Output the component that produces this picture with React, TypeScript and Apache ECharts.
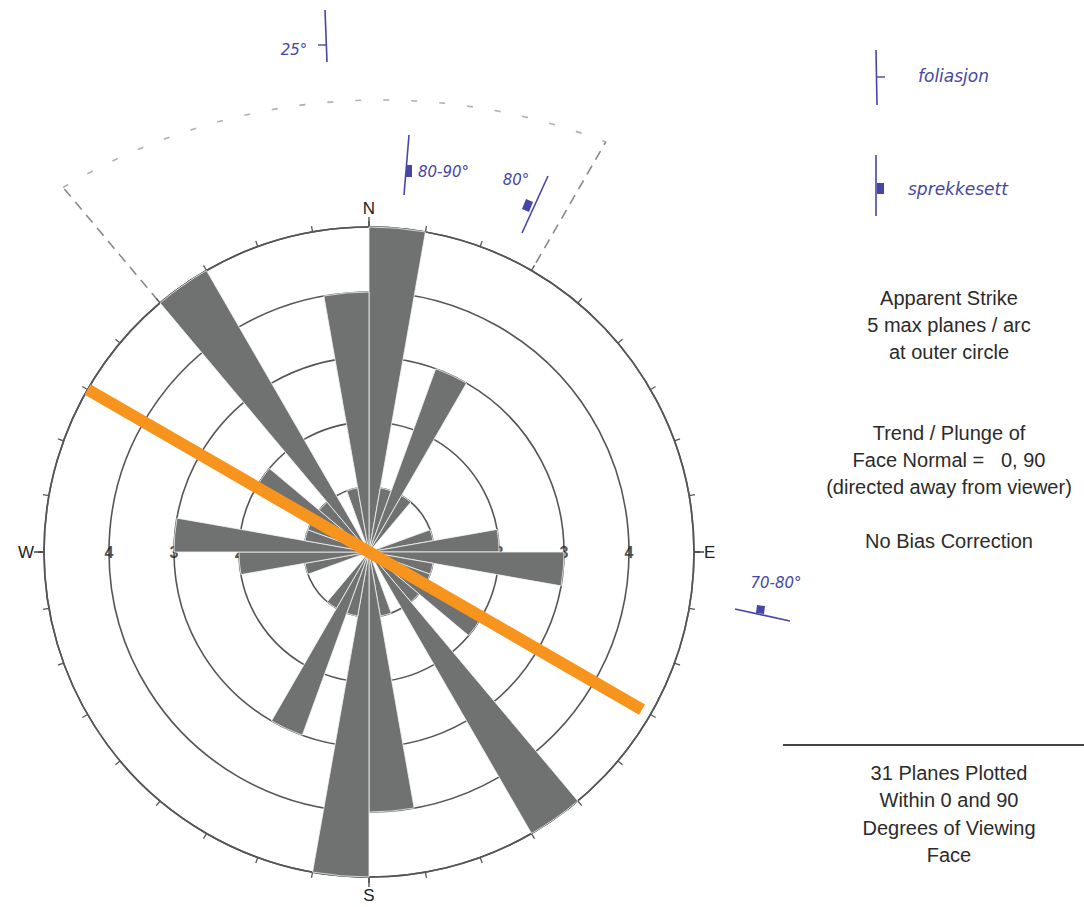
import React, { useEffect, useRef } from "react";
import * as echarts from "echarts";

// ---------- data ----------
const binStarts = [
  0, 10, 20, 30, 40, 50, 60, 70, 80, 90, 100, 110, 120, 130, 140, 150, 160, 170,
  180, 190, 200, 210, 220, 230, 240, 250, 260, 270, 280, 290, 300, 310, 320, 330, 340, 350,
];
const binLabels = binStarts.map((s) => `${s}-${s + 10}`);
// planes per 10° arc (apparent strike, bidirectional)
const planeCounts = [
  5, 1, 3, 1, 0, 0, 0, 1, 2, 3, 1, 1, 2, 1, 5, 0, 1, 4,
  5, 1, 3, 1, 0, 0, 0, 1, 2, 3, 1, 1, 2, 1, 5, 0, 1, 4,
];
const ringValues = [1, 2, 3, 4];
const ringLabelAngles = [90, 270];
const cardinalAngles = [0, 90, 180, 270];
const cardinalNames = ["N", "E", "S", "W"];
// trace of the viewing face (trend of line through centre)
const faceTrace = [
  [5.05, 300],
  [4.85, 120],
];
const infoTop = ["Apparent Strike", "5 max planes / arc", "at outer circle"];
const infoMid = ["Trend / Plunge of", "Face Normal =\u00a0\u00a0 0, 90", "(directed away from viewer)"];
const infoBias = ["No Bias Correction"];
const infoBottom = ["31 Planes Plotted", "Within 0 and 90", "Degrees of Viewing", "Face"];

// ---------- layout ----------
const W = 1084;
const H = 907;
const CX = 369;
const CY = 552;
const R = 325;
const TEXT_X = 949;
const FONT = '"Liberation Sans", Arial, sans-serif';
const INK = "#2b2b2b";
const BLUE = "#4646a6";
const HAND = 'italic 15px "DejaVu Sans", sans-serif';

function polarPt(bearing: number, r: number): [number, number] {
  const a = (bearing * Math.PI) / 180;
  return [CX + r * Math.sin(a), CY - r * Math.cos(a)];
}

function infoTexts(lines: string[], y0: number, step: number) {
  return lines.map((t, i) => ({
    type: "text",
    silent: true,
    style: {
      text: t,
      x: TEXT_X,
      y: y0 + i * step,
      fill: INK,
      font: `20px ${FONT}`,
      textAlign: "center",
      textVerticalAlign: "middle",
    },
  }));
}

export default function App() {
  const ref = useRef<HTMLDivElement>(null);

  useEffect(() => {
    if (!ref.current) return;
    const chart = echarts.init(ref.current, undefined, { renderer: "svg" });

    const [l1a, l1b] = [polarPt(320, 328), polarPt(320, 476)];
    const [r1a, r1b] = [polarPt(30, 334), polarPt(30, 474)];

    const graphics: any[] = [
      // dashed outline of the viewing sector
      {
        type: "line",
        silent: true,
        shape: { x1: l1a[0], y1: l1a[1], x2: l1b[0], y2: l1b[1] },
        style: { stroke: "#8a8a8a", lineWidth: 1.6, lineDash: [10, 7] },
      },
      {
        type: "line",
        silent: true,
        shape: { x1: r1a[0], y1: r1a[1], x2: r1b[0], y2: r1b[1] },
        style: { stroke: "#8a8a8a", lineWidth: 1.6, lineDash: [10, 7] },
      },
      {
        type: "arc",
        silent: true,
        shape: {
          cx: 381,
          cy: 721,
          r: 621,
          startAngle: (-120.8 * Math.PI) / 180,
          endAngle: (-68.8 * Math.PI) / 180,
          clockwise: true,
        },
        style: { stroke: "#b0b0b0", lineWidth: 1.6, fill: "none", lineDash: [6, 22] },
      },
      // handwritten marks
      { type: "line", silent: true, shape: { x1: 325, y1: 10, x2: 327, y2: 62 }, style: { stroke: BLUE, lineWidth: 1.6 } },
      { type: "line", silent: true, shape: { x1: 318, y1: 45, x2: 326, y2: 45 }, style: { stroke: BLUE, lineWidth: 1.4 } },
      { type: "text", silent: true, style: { text: "25°", x: 294, y: 50, fill: BLUE, font: HAND, textAlign: "center", textVerticalAlign: "middle" } },

      { type: "line", silent: true, shape: { x1: 409, y1: 135, x2: 404, y2: 195 }, style: { stroke: BLUE, lineWidth: 1.6 } },
      { type: "rect", silent: true, shape: { x: 406, y: 165, width: 6, height: 12 }, style: { fill: BLUE } },
      { type: "text", silent: true, style: { text: "80-90°", x: 418, y: 172, fill: BLUE, font: HAND, textAlign: "left", textVerticalAlign: "middle" } },

      { type: "line", silent: true, shape: { x1: 548, y1: 176, x2: 522, y2: 233 }, style: { stroke: BLUE, lineWidth: 1.6 } },
      { type: "polygon", silent: true, shape: { points: [[526, 199], [533, 202], [529, 212], [522, 209]] }, style: { fill: BLUE } },
      { type: "text", silent: true, style: { text: "80°", x: 516, y: 180, fill: BLUE, font: HAND, textAlign: "center", textVerticalAlign: "middle" } },

      { type: "line", silent: true, shape: { x1: 735, y1: 609, x2: 790, y2: 621 }, style: { stroke: BLUE, lineWidth: 1.6 } },
      { type: "polygon", silent: true, shape: { points: [[757, 605], [765, 606], [764, 614], [756, 613]] }, style: { fill: BLUE } },
      { type: "text", silent: true, style: { text: "70-80°", x: 776, y: 583, fill: BLUE, font: HAND, textAlign: "center", textVerticalAlign: "middle" } },

      // legend
      { type: "line", silent: true, shape: { x1: 876, y1: 50, x2: 877, y2: 105 }, style: { stroke: BLUE, lineWidth: 1.6 } },
      { type: "line", silent: true, shape: { x1: 877, y1: 77, x2: 885, y2: 77 }, style: { stroke: BLUE, lineWidth: 1.4 } },
      { type: "text", silent: true, style: { text: "foliasjon", x: 918, y: 76, fill: BLUE, font: 'italic 17px "DejaVu Sans", sans-serif', textAlign: "left", textVerticalAlign: "middle" } },
      { type: "line", silent: true, shape: { x1: 876, y1: 155, x2: 876, y2: 216 }, style: { stroke: BLUE, lineWidth: 1.6 } },
      { type: "rect", silent: true, shape: { x: 877, y: 183, width: 7, height: 11 }, style: { fill: BLUE } },
      { type: "text", silent: true, style: { text: "sprekkesett", x: 908, y: 189, fill: BLUE, font: 'italic 17px "DejaVu Sans", sans-serif', textAlign: "left", textVerticalAlign: "middle" } },

      // info block
      ...infoTexts(infoTop, 298, 27),
      ...infoTexts(infoMid, 433, 27),
      ...infoTexts(infoBias, 541, 27),
      { type: "line", silent: true, shape: { x1: 783, y1: 745, x2: 1084, y2: 745 }, style: { stroke: "#444", lineWidth: 2 } },
      ...infoTexts(infoBottom, 773, 27.3),
    ];

    const option: any = {
      animation: false,
      backgroundColor: "#ffffff",
      polar: [
        { center: [CX, CY], radius: R },
        { center: [CX, CY], radius: R },
      ],
      angleAxis: [
        {
          polarIndex: 0,
          type: "category",
          data: binLabels,
          startAngle: 90,
          clockwise: true,
          boundaryGap: true,
          axisLine: { show: true, lineStyle: { color: "#555", width: 1.6 } },
          axisTick: { show: true, interval: 0, length: 6, lineStyle: { color: "#555", width: 1.3 } },
          axisLabel: { show: false },
          splitLine: { show: false },
        },
        {
          polarIndex: 1,
          type: "value",
          min: 0,
          max: 360,
          interval: 90,
          startAngle: 90,
          clockwise: true,
          axisLine: { show: false },
          axisTick: { show: true, length: 10, lineStyle: { color: "#444", width: 1.3 } },
          axisLabel: {
            show: true,
            margin: 10,
            color: "#222",
            fontFamily: FONT,
            fontSize: 17,
            formatter: (v: number) => {
              const i = cardinalAngles.indexOf(v);
              return i >= 0 ? cardinalNames[i] : "";
            },
          },
          splitLine: { show: false },
        },
      ],
      radiusAxis: [
        {
          polarIndex: 0,
          type: "value",
          min: 0,
          max: 5,
          interval: 1,
          axisLine: { show: false },
          axisTick: { show: false },
          axisLabel: { show: false },
          splitLine: { show: true, lineStyle: { color: "#555", width: 1.6 } },
        },
        {
          polarIndex: 1,
          type: "value",
          min: 0,
          max: 5,
          interval: 1,
          show: false,
          splitLine: { show: false },
        },
      ],
      series: [
        {
          type: "scatter",
          coordinateSystem: "polar",
          polarIndex: 1,
          symbolSize: 0,
          silent: true,
          z: 1,
          data: ringLabelAngles.flatMap((a) => ringValues.map((r) => [r, a])),
          label: {
            show: true,
            position: "inside",
            formatter: (p: any) => String(p.value[0]),
            color: "#222",
            fontFamily: FONT,
            fontSize: 16,
            fontWeight: "bold",
          },
        },
        {
          type: "bar",
          coordinateSystem: "polar",
          polarIndex: 0,
          data: planeCounts,
          barCategoryGap: "0%",
          z: 2,
          itemStyle: { color: "#6f7271", borderColor: "#f4f4f4", borderWidth: 0.8 },
        },
        {
          type: "line",
          coordinateSystem: "polar",
          polarIndex: 1,
          data: faceTrace,
          symbol: "none",
          clip: false,
          z: 10,
          silent: true,
          lineStyle: { color: "#f7941d", width: 12 },
        },
      ],
      graphic: graphics,
    };

    chart.setOption(option);
    return () => chart.dispose();
  }, []);

  return (
    <div
      ref={ref}
      style={{ position: "fixed", left: 0, top: 0, width: W, height: H, background: "#fff" }}
    />
  );
}
